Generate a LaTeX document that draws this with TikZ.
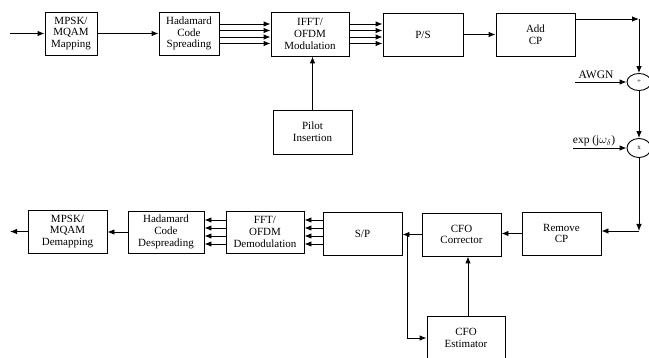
\documentclass[tikz,border=0pt]{standalone}
\usepackage{fontspec}
\setmainfont{Liberation Serif}
\usetikzlibrary{arrows.meta,shapes.geometric}
\begin{document}
\begin{tikzpicture}[x=1pt,y=-1pt,
 box/.style={draw,line width=0.9pt,align=center,inner sep=0pt,font=\fontsize{11}{11.8}\selectfont},
 sumnode/.style={draw,ellipse,line width=0.9pt,inner sep=0pt,minimum width=24pt,font=\fontsize{7}{8}\selectfont},
 lbl/.style={inner sep=1pt,font=\fontsize{11.5}{12}\selectfont},
 arr/.style={-{Latex[length=7pt,width=5.5pt]},line width=0.9pt}]
\useasboundingbox (0,0) rectangle (649,358);
% top row
\node[box,minimum width=52pt,minimum height=43pt] (map) at (71,33.5) {MPSK/\\MQAM\\Mapping};
\node[box,minimum width=60pt,minimum height=43pt] (spread) at (189,33.5) {Hadamard\\Code\\Spreading};
\node[box,minimum width=78pt,minimum height=44pt] (ifft) at (310,34) {IFFT/\\OFDM\\Modulation};
\node[box,minimum width=80pt,minimum height=43pt] (ps) at (423,34.5) {P/S};
\node[box,minimum width=79pt,minimum height=43pt] (addcp) at (535.5,34.5) {Add\\CP};
\node[box,minimum width=79pt,minimum height=44pt] (pilot) at (312.5,132) {Pilot\\Insertion};
\node[sumnode,minimum height=17pt] (add) at (639,82) {+};
\node[sumnode,minimum height=19pt] (mul) at (639,148) {x};
\node[lbl,anchor=south] (awgn) at (596,80) {AWGN};
\node[lbl,anchor=south] (expl) at (594,147) {exp (j$\omega_\delta$)};
% bottom row
\node[box,minimum width=79pt,minimum height=43pt] (remove) at (561.5,233.5) {Remove\\CP};
\node[box,minimum width=79pt,minimum height=43pt] (corr) at (461.5,234.5) {CFO\\Corrector};
\node[box,minimum width=79pt,minimum height=43pt] (sp) at (362.5,233.5) {S/P};
\node[box,minimum width=78pt,minimum height=44pt] (est) at (466,338) {CFO\\Estimator};
\node[box,minimum width=78pt,minimum height=42pt] (fft) at (265,232) {FFT/\\OFDM\\Demodulation};
\node[box,minimum width=76pt,minimum height=42pt] (desp) at (166,232) {Hadamard\\Code\\Despreading};
\node[box,minimum width=79pt,minimum height=43pt] (demap) at (67.5,231.5) {MPSK/\\MQAM\\Demapping};
% coordinates
\coordinate (in) at (10,33.5);
\coordinate (c1) at (639,19);
\coordinate (awgnL) at (575,82);
\coordinate (expL) at (573,148);
\coordinate (c2) at (639,231);
\coordinate (br) at (407,234);
\coordinate (out) at (10,231.5);
% connectors top
\draw[arr] (in) -- (map.west);
\draw[arr] (map.east) -- (spread.west);
\foreach \y in {24,30.5,37,43.5} {
  \draw[arr] (spread.east |- 0,\y) -- (ifft.west |- 0,\y);
  \draw[arr] (ifft.east |- 0,\y) -- (ps.west |- 0,\y);
}
\draw[arr] (ps.east) -- (addcp.west);
\draw[arr] (pilot.north) -- (pilot.north |- ifft.south);
\draw[arr] (addcp.east |- c1) -- (c1);
\draw[arr] (c1) -- (add.north);
\draw[arr] (awgnL) -- (add.west);
\draw[arr] (add.south) -- (mul.north);
\draw[arr] (expL) -- (mul.west);
\draw[arr] (mul.south) -- (c2);
\draw[arr] (c2) -- (remove.east |- c2);
% connectors bottom
\draw[arr] (remove.west) -- (corr.east |- remove.west);
\draw[arr] (corr.west) -- (sp.east |- corr.west);
\draw[arr] (br) |- (est.west);
\draw[arr] (est.north -| 468,0) -- (corr.south -| 468,0);
\foreach \y in {220,228,236,244} {
  \draw[arr] (sp.west |- 0,\y) -- (fft.east |- 0,\y);
  \draw[arr] (fft.west |- 0,\y) -- (desp.east |- 0,\y);
}
\draw[arr] (desp.west) -- (demap.east |- desp.west);
\draw[arr] (demap.west) -- (out);
\end{tikzpicture}
\end{document}
